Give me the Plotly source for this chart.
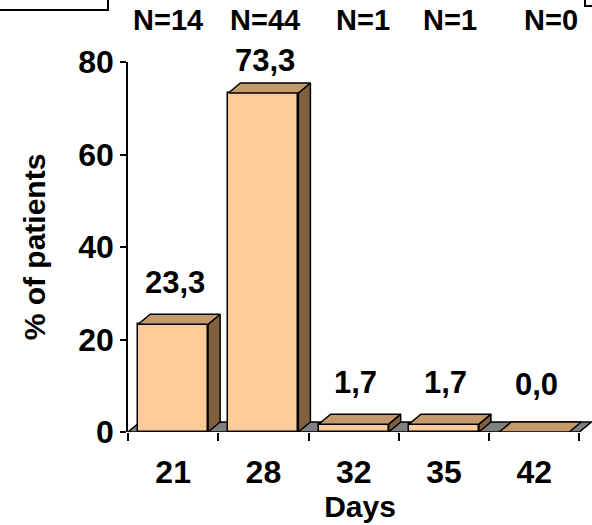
import plotly.graph_objects as go

# ---- data ----
days = ["21", "28", "32", "35", "42"]
percent = [23.3, 73.3, 1.7, 1.7, 0.0]
n_patients = [14, 44, 1, 1, 0]
y_ticks = [0, 20, 40, 60, 80]

# ---- style / geometry constants ----
FONT = "Arial, Liberation Sans, sans-serif"
FRONT = "#FFCC99"
SIDE = "#806040"
TOP = "#C49A6C"
FLOOR = "#808080"
BAR_W = 0.775
DX = 0.133   # 3D depth offset in x units
DY = 2.16    # 3D depth offset in y units
W, H = 592, 525
ML, MR, MT, MB = 128, 0, 62, 93
XR = [-0.5, 4.64]
YR = [0, 80]

idx = list(range(len(days)))


def py(yp):
    """pixel row -> paper y"""
    return (H - MB - yp) / (H - MT - MB)


def px(xp):
    """pixel column -> paper x"""
    return (xp - ML) / (W - ML - MR)


fig = go.Figure()

# front faces (real bars)
fig.add_trace(go.Bar(
    x=idx, y=percent, width=BAR_W,
    marker=dict(color=FRONT, line=dict(color="black", width=1.5)),
    hoverinfo="skip", showlegend=False,
))

# side faces
sx, sy = [], []
for i, v in zip(idx, percent):
    if v <= 0:
        continue
    r = i + BAR_W / 2
    sx += [r, r + DX, r + DX, r, r, None]
    sy += [0, DY, v + DY, v, 0, None]
fig.add_trace(go.Scatter(x=sx, y=sy, mode="lines", fill="toself", fillcolor=SIDE,
                         line=dict(color="black", width=1.5), hoverinfo="skip", showlegend=False))

# top faces
tx, ty = [], []
for i, v in zip(idx, percent):
    l, r = i - BAR_W / 2, i + BAR_W / 2
    tx += [l, r, r + DX, l + DX, l, None]
    ty += [v, v, v + DY, v + DY, v, None]
fig.add_trace(go.Scatter(x=tx, y=ty, mode="lines", fill="toself", fillcolor=TOP,
                         line=dict(color="black", width=1.5), hoverinfo="skip", showlegend=False))

# floor (behind the bars)
x0, x1 = -0.5, len(days) - 0.5
fig.add_shape(type="path", layer="below", xref="x", yref="y",
              path=f"M {x0},0 L {x1},0 L {x1 + DX},{DY} L {x0 + DX},{DY} Z",
              fillcolor=FLOOR, line=dict(color="black", width=1.5))

# value labels (placed in paper y so none is hidden above the axis range)
yspan = YR[1] - YR[0]
for i, v in zip(idx, percent):
    ly = min(max(v + 9, 10.2), 80.4)
    fig.add_annotation(x=i + 0.02, xref="x", y=(ly - YR[0]) / yspan, yref="paper",
                       xanchor="center", yanchor="middle",
                       text=f"{v:.1f}".replace(".", ","),
                       showarrow=False, font=dict(family=FONT, size=31, color="black", weight="bold"))

# N labels
n_dx = [-5, 2, 9, 6, 17]
for i, n, sh in zip(idx, n_patients, n_dx):
    fig.add_annotation(x=i, xref="x", y=py(20), yref="paper", text=f"N={n}", xshift=sh,
                       xanchor="center", yanchor="middle", showarrow=False,
                       font=dict(family=FONT, size=29, color="black", weight="bold"))

# decorative box edges at top
fig.add_shape(type="path", xref="paper", yref="paper",
              path=f"M {px(0)},{py(10)} L {px(108)},{py(10)} L {px(108)},{py(-2)}",
              line=dict(color="black", width=2))
fig.add_shape(type="path", xref="paper", yref="paper",
              path=f"M {px(585)},{py(-2)} L {px(585)},{py(6)} L {px(594)},{py(6)}",
              line=dict(color="black", width=2))

fig.update_layout(
    width=W, height=H,
    margin=dict(l=ML, r=MR, t=MT, b=MB, autoexpand=False),
    plot_bgcolor="white", paper_bgcolor="white",
    showlegend=False,
    bargap=0,
    font=dict(family=FONT, color="black"),
    xaxis=dict(
        range=XR, tickmode="array", tickvals=idx, ticktext=days,
        ticks="", showgrid=False, zeroline=False, showline=False, automargin=False,
        tickfont=dict(family=FONT, size=32, color="black", weight="bold"),
        ticklabelstandoff=18,
        minor=dict(tickmode="array", tickvals=[k - 0.5 for k in range(len(days) + 1)],
                   ticks="outside", ticklen=8, tickwidth=1.5, tickcolor="black"),
        title=dict(text="Days", standoff=0,
                   font=dict(family=FONT, size=30, color="black", weight="bold")),
    ),
    yaxis=dict(
        range=YR, tickmode="array", tickvals=y_ticks, automargin=False,
        ticks="outside", ticklen=6, tickwidth=1.5, tickcolor="black",
        showgrid=False, zeroline=False, showline=True, linecolor="black", linewidth=1.5,
        tickfont=dict(family=FONT, size=32, color="black", weight="bold"),
        title=dict(text="% of patients", standoff=24,
                   font=dict(family=FONT, size=30, color="black", weight="bold")),
    ),
)

fig.write_html("out.html", config={"displayModeBar": False},
               post_script="document.body.style.margin='0';")
